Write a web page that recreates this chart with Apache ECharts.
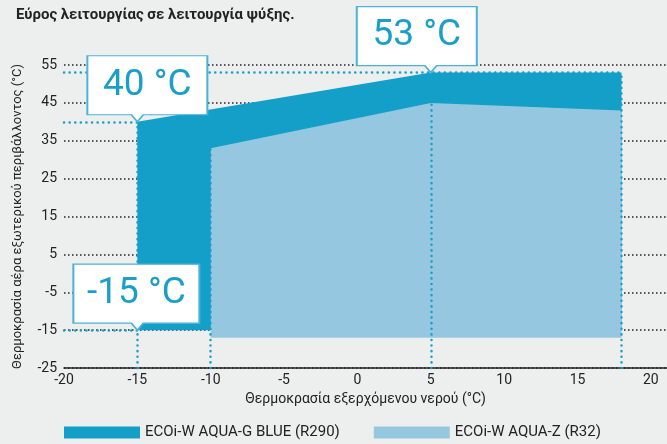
<!DOCTYPE html>
<html>
<head>
<meta charset="utf-8">
<script src="https://cdn.jsdelivr.net/npm/echarts@6/dist/echarts.min.js"></script>
<style>
  html, body { margin: 0; padding: 0; background: #edefee; }
  #chart { width: 667px; height: 444px; }
</style>
</head>
<body>
<div id="chart"></div>
<script>
// operating envelope (water out temp, outdoor air temp)
var blueX = [-15, 5, 18];
var blueTop = [40, 53, 53];
var blueBottom = -15;

var zX = [-10, 5, 18];
var zTop = [33, 45, 43];
var zBottom = -17;

var names = ['ECOi-W AQUA-G BLUE (R290)', 'ECOi-W AQUA-Z (R32)'];

// dotted guides
var hGuideY = [53, 40, -15];
var hGuideEnd = [18, -15, -15];
var vGuideX = [-15, -10, 5, 18];
var vGuideTop = [40, 33, 45, 53];

// callouts
var callX = [-15, 5, -15];
var callY = [40, 53, -15];
var callText = ['40 °C', '53 °C', '-15 °C'];

var xMin = -20, yMin = -25;
var dark = '#139fc8';
var light = '#95c8e0';
var textBlue = '#1a9fc8';

var myChart = echarts.init(document.getElementById('chart'));

var guideLines = [];
hGuideY.forEach(function (y, i) {
    guideLines.push([{ coord: [xMin, y] }, { coord: [hGuideEnd[i], y] }]);
});
vGuideX.forEach(function (x, i) {
    guideLines.push([{ coord: [x, yMin] }, { coord: [x, vGuideTop[i]] }]);
});

// callout box shapes, tip position differs per box
var shapes = [
    { path: 'path://M0,0 L120,0 L120,59 L56,59 L50,66 L44,59 L0,59 Z', size: [120, 66], off: [10, -33] },
    { path: 'path://M0,0 L120,0 L120,59 L80,59 L74,66 L68,59 L0,59 Z', size: [120, 66], off: [-14, -33] },
    { path: 'path://M0,0 L126,0 L126,59 L70,59 L64,66 L58,59 L0,59 Z', size: [126, 66], off: [-1, -33] }
];
var callouts = callX.map(function (x, i) {
    return {
        coord: [x, callY[i]],
        value: callText[i],
        symbol: shapes[i].path,
        symbolSize: shapes[i].size,
        symbolOffset: shapes[i].off
    };
});

var option = {
    backgroundColor: '#edefee',
    animation: false,
    title: {
        text: 'Εύρος λειτουργίας σε λειτουργία ψύξης.',
        left: 11,
        top: 3,
        textStyle: { fontFamily: 'Roboto', fontSize: 15, fontWeight: 'bold', color: '#222' }
    },
    legend: {
        left: 64,
        top: 425,
        padding: 0,
        itemWidth: 76,
        itemHeight: 12,
        itemGap: 34,
        icon: 'rect',
        data: names,
        textStyle: { fontFamily: 'Roboto', fontSize: 15, color: '#222' }
    },
    grid: { left: 64, right: 0, top: 65, bottom: 76 },
    xAxis: {
        type: 'value',
        min: -20,
        max: 21.1,
        interval: 5,
        name: 'Θερμοκρασία εξερχόμενου νερού (°C)',
        nameLocation: 'middle',
        nameGap: 24,
        nameTextStyle: { fontFamily: 'Roboto', fontSize: 14, color: '#222' },
        axisLine: { onZero: false, lineStyle: { color: '#222', width: 1.5 } },
        axisTick: { show: false },
        splitLine: { show: false },
        axisLabel: { showMaxLabel: false, margin: 5, fontFamily: 'Roboto', fontSize: 14, color: '#222' }
    },
    yAxis: {
        type: 'value',
        min: -25,
        max: 55,
        interval: 10,
        name: 'Θερμοκρασία αέρα εξωτερικού περιβάλλοντος (°C)',
        nameLocation: 'middle',
        nameRotate: 90,
        nameGap: 40,
        nameTextStyle: { fontFamily: 'Roboto', fontSize: 13, color: '#222' },
        axisLine: { show: false },
        axisTick: { show: false },
        axisLabel: { margin: 7, fontFamily: 'Roboto', fontSize: 14, color: '#222' },
        splitLine: { lineStyle: { color: '#222', type: [1.5, 2.5], width: 1.5 } }
    },
    series: [
        {
            name: names[0],
            type: 'line',
            data: blueX.map(function (x, i) { return [x, blueTop[i]]; }),
            showSymbol: false,
            lineStyle: { width: 0 },
            itemStyle: { color: dark },
            areaStyle: { color: dark, opacity: 1, origin: blueBottom },
            z: 2
        },
        {
            name: names[1],
            type: 'line',
            data: zX.map(function (x, i) { return [x, zTop[i]]; }),
            showSymbol: false,
            lineStyle: { width: 0 },
            itemStyle: { color: light },
            areaStyle: { color: light, opacity: 1, origin: zBottom },
            z: 3,
            markLine: {
                silent: true,
                symbol: 'none',
                label: { show: false },
                lineStyle: { color: textBlue, width: 2.5, type: [0.1, 5.5], cap: 'round' },
                data: guideLines,
                z: 4
            },
            markPoint: {
                silent: true,
                itemStyle: { color: '#fff', borderColor: '#4db3d6', borderWidth: 1.5 },
                label: {
                    show: true,
                    position: 'inside',
                    offset: [0, -3.5],
                    formatter: '{c}',
                    fontFamily: 'Roboto',
                    fontSize: 37,
                    color: textBlue
                },
                data: callouts,
                z: 5
            }
        }
    ]
};

myChart.setOption(option);
</script>
</body>
</html>
